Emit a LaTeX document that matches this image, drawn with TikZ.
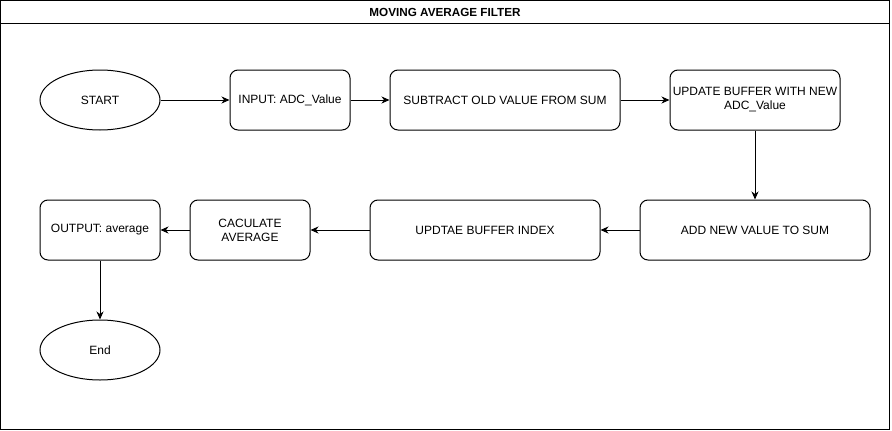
\documentclass[tikz,border=0pt]{standalone}
\usepackage{fontspec}
\setmainfont{Liberation Sans}
\usetikzlibrary{shapes.geometric,arrows.meta}
\begin{document}
\begin{tikzpicture}[x=1pt,y=-1pt,
  every node/.style={font=\fontsize{12}{14}\selectfont, align=center, inner sep=1pt},
  procbox/.style={draw, line width=1pt, rounded corners=8pt},
  oval/.style={draw, line width=1pt, ellipse},
  conn/.style={line width=1pt, -{Stealth[length=8pt,width=7pt,inset=2.5pt]}}]
\useasboundingbox (0,0) rectangle (892,431);
\draw[line width=1pt] (0.5,0.5) rectangle (889.5,429.5);
\draw[line width=1pt] (0.5,23) -- (889.5,23);
\node[font=\bfseries\fontsize{11.7}{13}\selectfont] (title) at (445,12) {MOVING AVERAGE FILTER};
% shapes
\node[oval, minimum width=120pt, minimum height=60pt] (start) at (100,100) {START};
\node[procbox, minimum width=120pt, minimum height=60pt] (input) at (290,100) {INPUT: ADC\_Value};
\node[procbox, minimum width=230pt, minimum height=60pt] (sub) at (505,100) {SUBTRACT OLD VALUE FROM SUM};
\node[procbox, minimum width=170pt, minimum height=60pt] (upd) at (755,100) {UPDATE BUFFER WITH NEW\\ADC\_Value};
\node[procbox, minimum width=230pt, minimum height=60pt] (add) at (755,230) {ADD NEW VALUE TO SUM};
\node[procbox, minimum width=230pt, minimum height=60pt] (idx) at (485,230) {UPDTAE BUFFER INDEX};
\node[procbox, minimum width=120pt, minimum height=60pt] (calc) at (250,230) {CACULATE\\AVERAGE};
\node[procbox, minimum width=120pt, minimum height=60pt] (out) at (100,230) {OUTPUT: average};
\node[oval, minimum width=120pt, minimum height=60pt] (end) at (100,350) {End};
% connectors
\draw[conn] (start) -- (input);
\draw[conn] (input) -- (sub);
\draw[conn] (sub) -- (upd);
\draw[conn] (upd) -- (add);
\draw[conn] (add) -- (idx);
\draw[conn] (idx) -- (calc);
\draw[conn] (calc) -- (out);
\draw[conn] (out) -- (end);
\end{tikzpicture}
\end{document}
